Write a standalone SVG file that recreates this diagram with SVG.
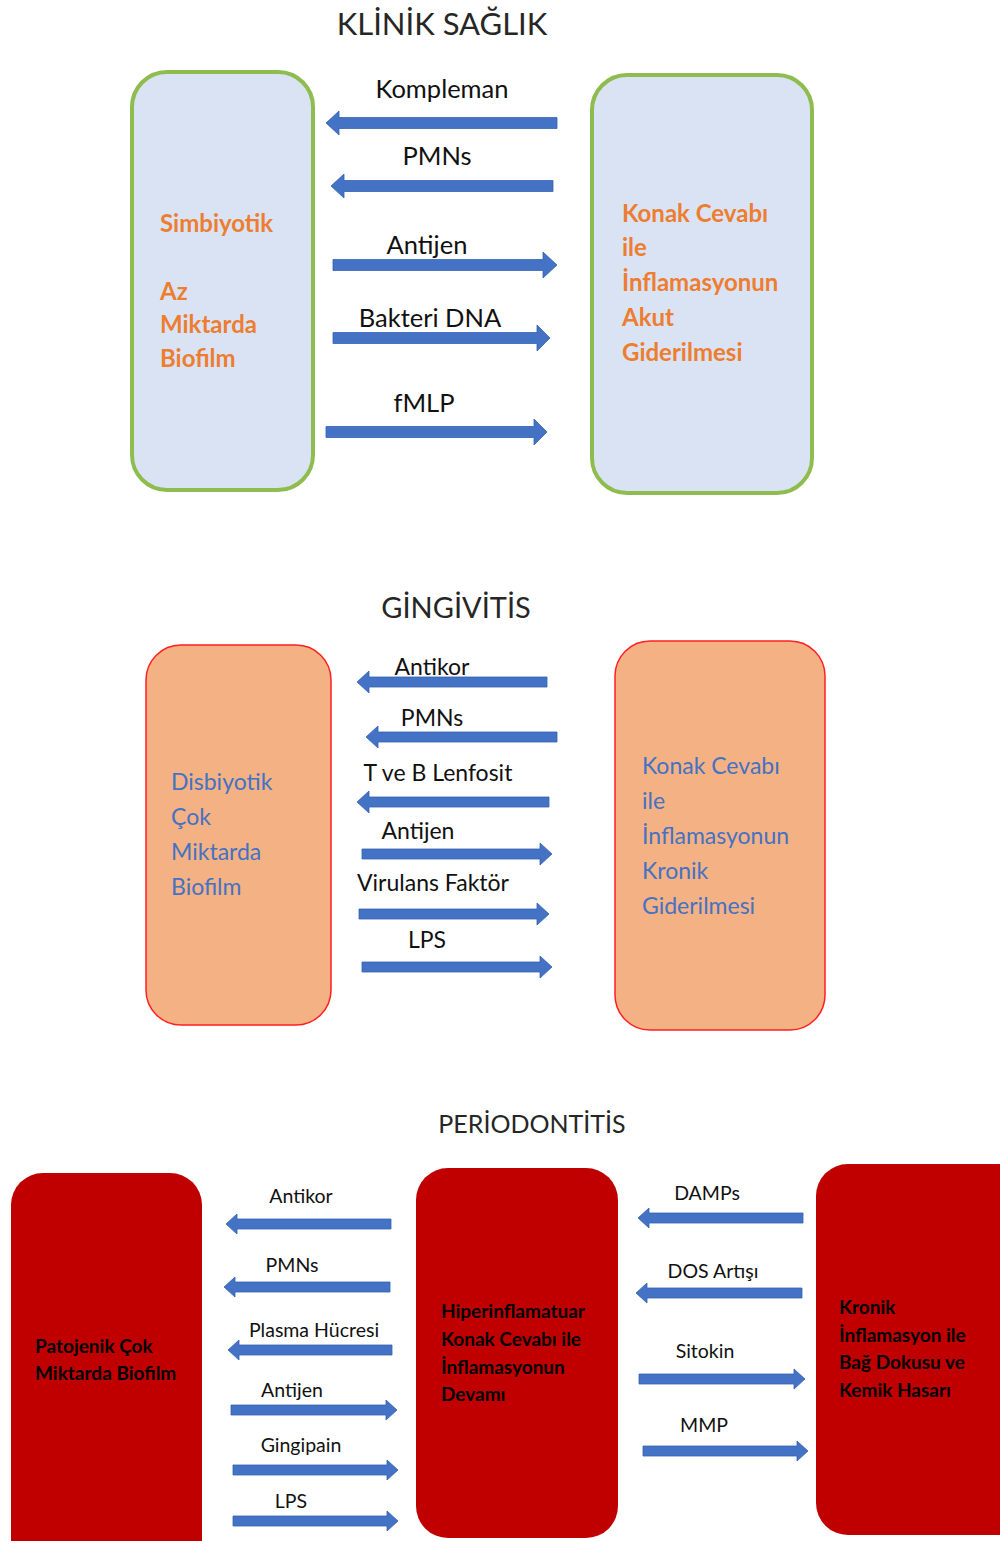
<svg xmlns="http://www.w3.org/2000/svg" width="1000" height="1541" viewBox="0 0 1000 1541">
<style>
text{font-family:Lato,"Open Sans","Liberation Sans",sans-serif}
.title{fill:#262626;text-anchor:middle}
.lbl{fill:#111;text-anchor:middle}
.l1{font-size:25.5px}
.l2{font-size:23px}
.l3{font-size:19.5px}
.arr{fill:#4472C4;stroke:#3562B0;stroke-width:0.8}
.bxG{fill:#DAE3F3;stroke:#8FBC4F;stroke-width:4}
.bxO{fill:#F4B183;stroke:#FF2020;stroke-width:1.5}
.bxR{fill:#C00000}
.tOr{fill:#ED7D31;font-weight:bold;font-size:24px}
.tBl{fill:#4472C4;font-size:23px}
.tBk{fill:#000;font-weight:bold;font-size:19px}
</style>
<rect width="1000" height="1541" fill="#fff"/>
<g id="titles">
<text class="title" x="442" y="35" font-size="31">KLİNİK SAĞLIK</text>
<text class="title" x="456" y="618" font-size="29">GİNGİVİTİS</text>
<text class="title" x="532" y="1133" font-size="25">PERİODONTİTİS</text>
</g>
<g id="node-simbiyotik">
<rect class="bxG" x="132" y="72" width="181" height="418" rx="35"/>
<text class="tOr" x="160" y="232">Simbiyotik</text>
<text class="tOr" x="160" y="300">Az</text>
<text class="tOr" x="160" y="333">Miktarda</text>
<text class="tOr" x="160" y="367">Biofilm</text>
</g>
<g id="node-konak-akut">
<rect class="bxG" x="592" y="75" width="220" height="418" rx="35"/>
<text class="tOr" x="622" y="222">Konak Cevabı</text>
<text class="tOr" x="622" y="256">ile</text>
<text class="tOr" x="622" y="291">İnflamasyonun</text>
<text class="tOr" x="622" y="326">Akut</text>
<text class="tOr" x="622" y="361">Giderilmesi</text>
</g>
<g id="node-disbiyotik">
<rect class="bxO" x="146" y="645" width="185" height="380" rx="35"/>
<text class="tBl" x="171" y="790">Disbiyotik</text>
<text class="tBl" x="171" y="825">Çok</text>
<text class="tBl" x="171" y="860">Miktarda</text>
<text class="tBl" x="171" y="895">Biofilm</text>
</g>
<g id="node-konak-kronik">
<rect class="bxO" x="615" y="641" width="210" height="389" rx="35"/>
<text class="tBl" x="642" y="774">Konak Cevabı</text>
<text class="tBl" x="642" y="809">ile</text>
<text class="tBl" x="642" y="844">İnflamasyonun</text>
<text class="tBl" x="642" y="879">Kronik</text>
<text class="tBl" x="642" y="914">Giderilmesi</text>
</g>
<g id="node-patojenik">
<rect class="bxR" x="11" y="1173" width="191" height="400" rx="32"/>
<text class="tBk" x="35" y="1353">Patojenik Çok</text>
<text class="tBk" x="35" y="1380">Miktarda Biofilm</text>
</g>
<g id="node-hiperinflamatuar">
<rect class="bxR" x="416" y="1168" width="202" height="370" rx="32"/>
<text class="tBk" x="441" y="1318">Hiperinflamatuar</text>
<text class="tBk" x="441" y="1346">Konak Cevabı ile</text>
<text class="tBk" x="441" y="1374">İnflamasyonun</text>
<text class="tBk" x="441" y="1401">Devamı</text>
</g>
<g id="node-kronik-hasar">
<rect class="bxR" x="816" y="1164" width="230" height="371" rx="32"/>
<text class="tBk" x="839" y="1314">Kronik</text>
<text class="tBk" x="839" y="1342">İnflamasyon ile</text>
<text class="tBk" x="839" y="1369">Bağ Dokusu ve</text>
<text class="tBk" x="839" y="1397">Kemik Hasarı</text>
</g>
<g id="connectors">
<path class="arr" d="M557,117.5 H339 V111 L326,123 L339,135 V128.5 H557 Z"/>
<path class="arr" d="M553,180.5 H344 V174 L331,186 L344,198 V191.5 H553 Z"/>
<path class="arr" d="M333,259.5 H543 V252 L557,265 L543,278 V270.5 H333 Z"/>
<path class="arr" d="M333,332.5 H537 V325 L550,338 L537,351 V343.5 H333 Z"/>
<path class="arr" d="M326,426.5 H534 V419 L547,432 L534,445 V437.5 H326 Z"/>
<path class="arr" d="M547,677 H369 V671 L357,682 L369,693 V687 H547 Z"/>
<path class="arr" d="M557,732 H378 V726 L366,737 L378,748 V742 H557 Z"/>
<path class="arr" d="M549,797 H369 V791 L357,802 L369,813 V807 H549 Z"/>
<path class="arr" d="M362,849 H540 V843 L552,854 L540,865 V859 H362 Z"/>
<path class="arr" d="M359,909 H537 V903 L549,914 L537,925 V919 H359 Z"/>
<path class="arr" d="M362,962 H540 V956 L552,967 L540,978 V972 H362 Z"/>
<path class="arr" d="M391,1219 H237 V1214 L226,1224 L237,1234 V1229 H391 Z"/>
<path class="arr" d="M390,1282 H235 V1277 L224,1287 L235,1297 V1292 H390 Z"/>
<path class="arr" d="M392,1345 H239 V1340 L228,1350 L239,1360 V1355 H392 Z"/>
<path class="arr" d="M231,1405 H386 V1400 L397,1410 L386,1420 V1415 H231 Z"/>
<path class="arr" d="M233,1465 H387 V1460 L398,1470 L387,1480 V1475 H233 Z"/>
<path class="arr" d="M233,1516 H387 V1511 L398,1521 L387,1531 V1526 H233 Z"/>
<path class="arr" d="M803,1213 H649 V1208 L638,1218 L649,1228 V1223 H803 Z"/>
<path class="arr" d="M802,1288 H647 V1283 L636,1293 L647,1303 V1298 H802 Z"/>
<path class="arr" d="M639,1374 H794 V1369 L805,1379 L794,1389 V1384 H639 Z"/>
<path class="arr" d="M643,1446 H797 V1441 L808,1451 L797,1461 V1456 H643 Z"/>
</g>
<g id="connector-labels">
<text class="lbl l1" x="442" y="98">Kompleman</text>
<text class="lbl l1" x="437" y="165">PMNs</text>
<text class="lbl l1" x="427" y="254">Antijen</text>
<text class="lbl l1" x="430" y="327">Bakteri DNA</text>
<text class="lbl l1" x="424" y="412">fMLP</text>
<text class="lbl l2" x="432" y="675">Antikor</text>
<text class="lbl l2" x="432" y="726">PMNs</text>
<text class="lbl l2" x="438" y="781">T ve B Lenfosit</text>
<text class="lbl l2" x="418" y="839">Antijen</text>
<text class="lbl l2" x="433" y="891">Virulans Faktör</text>
<text class="lbl l2" x="427" y="948">LPS</text>
<text class="lbl l3" x="301" y="1203">Antikor</text>
<text class="lbl l3" x="292" y="1272">PMNs</text>
<text class="lbl l3" x="314" y="1337">Plasma Hücresi</text>
<text class="lbl l3" x="292" y="1397">Antijen</text>
<text class="lbl l3" x="301" y="1452">Gingipain</text>
<text class="lbl l3" x="291" y="1508">LPS</text>
<text class="lbl l3" x="707" y="1200">DAMPs</text>
<text class="lbl l3" x="713" y="1278">DOS Artışı</text>
<text class="lbl l3" x="705" y="1358">Sitokin</text>
<text class="lbl l3" x="704" y="1432">MMP</text>
</g>
</svg>
